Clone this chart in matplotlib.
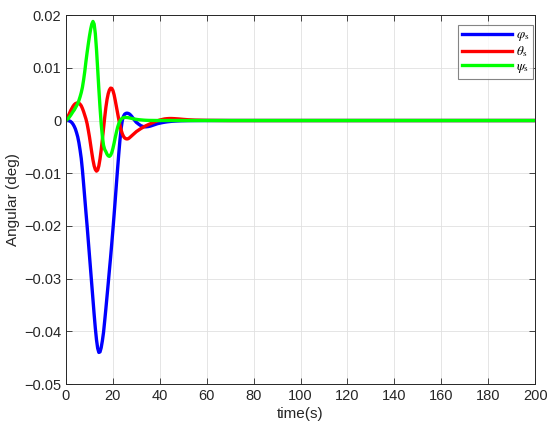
import numpy as np
import matplotlib
matplotlib.use("Agg")
import matplotlib.pyplot as plt
from matplotlib.ticker import FixedLocator

# time samples (s)
t = [0, 0.5, 1, 1.5, 2, 2.5, 3, 3.5, 4, 4.5, 5, 5.5, 6, 6.5, 7, 7.5, 8, 8.5, 9, 9.5,
     10, 10.5, 11, 11.5, 12, 12.5, 13, 13.5, 14, 14.5, 15, 15.5, 16, 16.5, 17, 17.5, 18, 18.5, 19, 19.5,
     20, 20.5, 21, 21.5, 22, 22.5, 23, 23.5, 24, 24.5, 25, 25.5, 26, 26.5, 27, 27.5, 28, 28.5, 29, 29.5,
     30, 31, 32, 33, 34, 35, 36, 37, 38, 39, 40, 41, 42, 43, 44, 45, 46, 47, 48, 49, 50,
     52, 55, 60, 70, 80, 100, 150, 200]

# phi_s (x1e-3 deg)
phi = [0, 0, -0.02, -0.08, -0.2, -0.4, -0.7, -1.1, -1.6, -2.3, -3.1, -4.2, -5.6, -7.2, -9.4, -12.0, -14.7, -17.4, -20.0, -22.8,
       -25.6, -28.4, -31.2, -34.0, -36.8, -39.4, -41.6, -43.2, -44.0, -43.9, -43.1, -41.8, -40.2, -38.0, -35.7, -33.3, -30.9, -28.4, -26.0, -23.4,
       -20.7, -17.9, -15.0, -12.0, -9.1, -6.3, -3.7, -1.5, 0.0, 0.8, 1.2, 1.35, 1.4, 1.35, 1.25, 1.05, 0.8, 0.5, 0.2, -0.1,
       -0.35, -0.7, -1.0, -1.15, -1.2, -1.15, -1.05, -0.9, -0.75, -0.6, -0.5, -0.4, -0.32, -0.25, -0.2, -0.15, -0.12, -0.09, -0.07, -0.05, -0.04,
       -0.02, -0.01, 0, 0, 0, 0, 0, 0]

# theta_s (x1e-3 deg)
theta = [0, 0.4, 0.9, 1.4, 1.9, 2.3, 2.7, 3.0, 3.2, 3.3, 3.35, 3.3, 3.1, 2.8, 2.3, 1.7, 1.0, 0.3, -0.6, -1.8,
         -3.1, -4.6, -6.1, -7.5, -8.6, -9.3, -9.6, -9.4, -8.6, -7.3, -5.6, -3.6, -1.5, 0.6, 2.5, 4.0, 5.1, 5.8, 6.15, 6.1,
         5.7, 4.9, 3.8, 2.6, 1.4, 0.2, -0.9, -1.8, -2.5, -3.0, -3.3, -3.45, -3.5, -3.45, -3.3, -3.1, -2.9, -2.7, -2.5, -2.3,
         -2.1, -1.8, -1.5, -1.25, -1.0, -0.8, -0.6, -0.4, -0.2, -0.05, 0.1, 0.2, 0.3, 0.35, 0.38, 0.38, 0.36, 0.33, 0.3, 0.26, 0.22,
         0.15, 0.08, 0.03, 0, 0, 0, 0, 0]

# psi_s (x1e-3 deg)
psi = [0, 0.2, 0.4, 0.7, 1.0, 1.35, 1.7, 2.0, 2.4, 2.8, 3.2, 3.8, 4.5, 5.3, 6.3, 7.7, 9.3, 11.2, 12.9, 14.5,
       16.0, 17.3, 18.3, 18.8, 18.3, 16.5, 13.5, 9.8, 6.0, 2.5, -0.6, -3.0, -4.7, -5.5, -5.9, -6.4, -6.7, -6.8, -6.6, -6.1,
       -5.3, -4.3, -3.2, -2.2, -1.3, -0.6, -0.1, 0.25, 0.45, 0.55, 0.6, 0.6, 0.58, 0.55, 0.5, 0.45, 0.4, 0.35, 0.3, 0.26,
       0.22, 0.16, 0.12, 0.08, 0.05, 0.03, 0.02, 0.015, 0.01, 0.005, 0, 0, 0, 0, 0, 0, 0, 0, 0, 0, 0,
       0, 0, 0, 0, 0, 0, 0, 0]

xticks = [0, 20, 40, 60, 80, 100, 120, 140, 160, 180, 200]
yticks = [-0.05, -0.04, -0.03, -0.02, -0.01, 0, 0.01, 0.02]
ytick_labels = ["\u22120.05", "\u22120.04", "\u22120.03", "\u22120.02", "\u22120.01", "0", "0.01", "0.02"]
labels = [r"$\varphi_{\rm s}$", r"$\theta_{\rm s}$", r"$\psi_{\rm s}$"]

plt.rcParams['font.family'] = ['Liberation Sans', 'DejaVu Sans']
plt.rcParams['mathtext.fontset'] = 'stix'

fig = plt.figure(figsize=(5.5, 4.32), dpi=100)
ax = fig.add_axes([0.12, 0.111, 0.853, 0.854])

tt = np.array(t)
ax.plot(tt, np.array(phi) * 1e-3, color=(0, 0, 1), lw=2.4, label=labels[0])
ax.plot(tt, np.array(theta) * 1e-3, color=(1, 0, 0), lw=2.4, label=labels[1])
ax.plot(tt, np.array(psi) * 1e-3, color=(0, 1, 0), lw=2.4, label=labels[2])

ax.set_xlim(0, 200)
ax.set_ylim(-0.05, 0.02)
ax.xaxis.set_major_locator(FixedLocator(xticks))
ax.set_xticklabels([str(v) for v in xticks])
ax.yaxis.set_major_locator(FixedLocator(yticks))
ax.set_yticklabels(ytick_labels)

tc = (0.15, 0.15, 0.15)
ax.tick_params(direction='in', top=True, right=True, labelsize=10.5, colors=tc, length=4, width=0.6)
for s in ax.spines.values():
    s.set_color(tc)
    s.set_linewidth(0.7)
ax.grid(True, color=(0.88, 0.88, 0.88), lw=0.6)
ax.set_axisbelow(True)

ax.set_xlabel("time(s)", fontsize=11, color=tc, labelpad=3)
ax.set_ylabel("Angular (deg)", fontsize=11, color=tc, labelpad=3)

leg = ax.legend(loc='upper right', fontsize=9.5, frameon=True, fancybox=False,
                edgecolor=(0.4, 0.4, 0.4), handlelength=3.8, borderpad=0.3, labelspacing=0.1,
                handletextpad=0.3, borderaxespad=0, bbox_to_anchor=(0.996, 0.973))
leg.get_frame().set_linewidth(0.8)

fig.savefig("out.png", dpi=100)
